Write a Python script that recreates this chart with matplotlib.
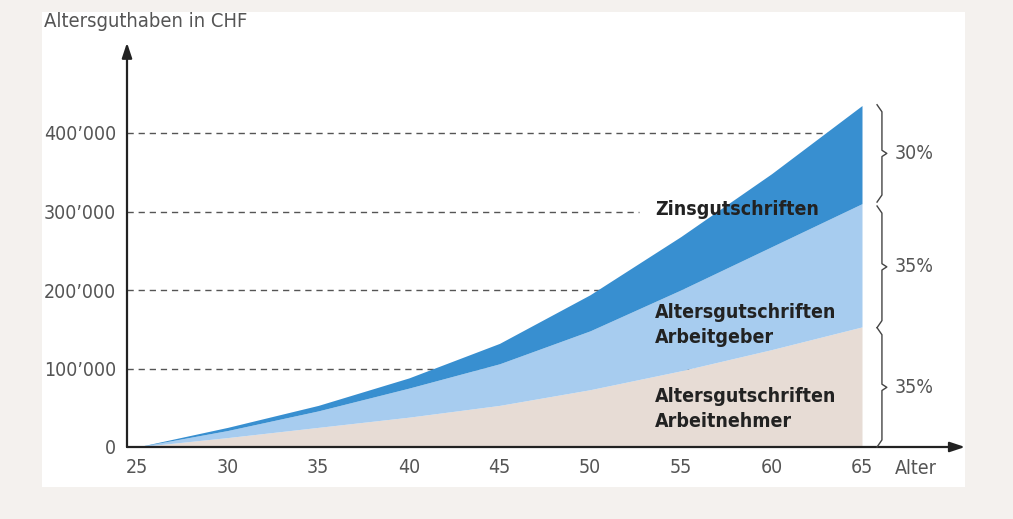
import matplotlib
matplotlib.use("Agg")
import matplotlib.pyplot as plt
from matplotlib.patches import Rectangle
import numpy as np

plt.rcParams['font.family'] = ['DejaVu Sans']
plt.rcParams['font.stretch'] = 'condensed'

# Alter und Altersguthaben (kumuliert, in CHF)
alter = [25, 30, 35, 40, 45, 50, 55, 60, 65]
arbeitnehmer = [0, 12000, 25000, 38000, 53000, 73000, 97000, 124000, 153000]
arbeitgeber_top = [0, 21000, 46000, 75000, 106000, 148000, 200000, 255000, 310000]
total = [0, 25000, 53000, 88000, 132000, 194000, 268000, 348000, 435000]

y_ticks = [0, 100000, 200000, 300000, 400000]
y_labels = ["0", "100\u2019000", "200\u2019000", "300\u2019000", "400\u2019000"]
x_ticks = [25, 30, 35, 40, 45, 50, 55, 60, 65]
anteile = ["30%", "35%", "35%"]

W, H = 1013, 519
fig = plt.figure(figsize=(W / 100, H / 100), dpi=100)
fig.patch.set_facecolor("#f4f1ee")
fig.patches.append(Rectangle((42 / W, 1 - 487 / H), 923 / W, 475 / H,
                             transform=fig.transFigure, facecolor="white",
                             edgecolor="none", zorder=-1))

# axes box in pixels: left 127, right 970, top 40, bottom 447
ax = fig.add_axes([127 / W, 1 - 447 / H, 843 / W, 407 / H])
ax.set_zorder(2)
ax.set_facecolor("none")
px_year = 18.125
px_val = 0.785 / 1000
ax.set_xlim(25 - 10 / px_year, 25 + 833 / px_year)
ax.set_ylim(0, 407 / px_val)
for s in ax.spines.values():
    s.set_visible(False)

x0 = 25 - 10 / px_year
grey = "#555555"

# dashed guide lines (the 300'000 line stops in front of the label)
for v in y_ticks[1:]:
    x_end = 52.7 if v == 300000 else 64.8
    ax.plot([x0, x_end], [v, v], ls=(0, (4.5, 3.5)), color="#555555", lw=1.0, zorder=1)

ax.fill_between(alter, 0, arbeitnehmer, color="#e7dcd5", lw=0, zorder=2)
ax.fill_between(alter, arbeitnehmer, arbeitgeber_top, color="#a7ccef", lw=0, zorder=2)
ax.fill_between(alter, arbeitgeber_top, total, color="#388fd0", lw=0, zorder=2)

# axes with arrows
ax.annotate("", xy=(x0, 515000), xytext=(x0, 0),
            arrowprops=dict(arrowstyle="-|>,head_length=0.9,head_width=0.3",
                            color="#222222", lw=1.6, shrinkA=0, shrinkB=0), zorder=5)
ax.annotate("", xy=(25 + 828 / px_year, 0), xytext=(x0, 0),
            arrowprops=dict(arrowstyle="-|>,head_length=0.9,head_width=0.3",
                            color="#222222", lw=1.6, shrinkA=0, shrinkB=0), zorder=5)

ax.set_xticks(x_ticks)
ax.set_xticklabels([str(t) for t in x_ticks])
ax.set_yticks(y_ticks)
ax.set_yticklabels(y_labels)
ax.tick_params(length=0, colors=grey, labelsize=14)
ax.tick_params(axis="x", pad=8)
ax.tick_params(axis="y", pad=8)

ax.text(25 + 758 / px_year, -21 / px_val, "Alter", color=grey, fontsize=14,
        ha="left", va="center")
fig.text(44 / W, 1 - 22 / H, "Altersguthaben in CHF", color=grey, fontsize=14.5,
         ha="left", va="center")

# braces on the right
xb = 66.1
hook = 0.27
bounds = [(433000, 315000), (304000, 155000), (149000, 3000)]
for (top, bot), txt in zip(bounds, anteile):
    mid = (top + bot) / 2
    ax.plot([xb - hook, xb, xb, xb + hook, xb, xb, xb - hook],
            [top + 3000, top - 6000, mid + 4000, mid, mid - 4000, bot + 6000, bot - 3000],
            color="#444444", lw=1.0, clip_on=False, zorder=5)
    ax.text(66.8, mid, txt, color=grey, fontsize=14, ha="left", va="center")

# layer labels
lab = dict(fontsize=14, fontweight="bold", color="#222222", ha="left",
           va="center", zorder=6)
ax.text(53.58, 302000, "Zinsgutschriften", **lab)
ax.text(53.58, 171000, "Altersgutschriften", **lab)
ax.text(53.58, 139000, "Arbeitgeber", **lab)
ax.text(53.58, 64000, "Altersgutschriften", **lab)
ax.text(53.58, 32000, "Arbeitnehmer", **lab)

fig.savefig("out.png", dpi=100, facecolor=fig.get_facecolor())
